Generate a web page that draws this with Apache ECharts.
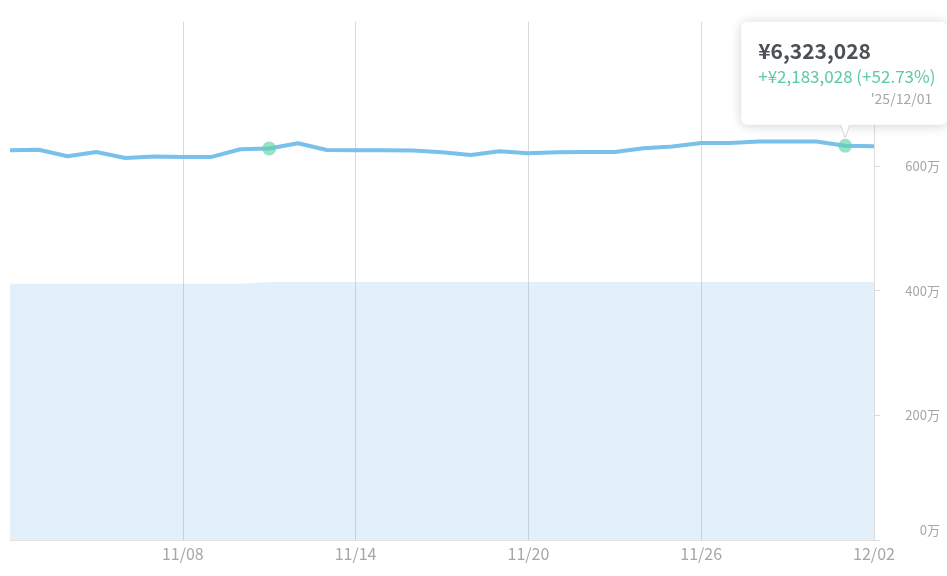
<!DOCTYPE html>
<html><head><meta charset="utf-8">
<script src="https://cdn.jsdelivr.net/npm/echarts@6/dist/echarts.min.js"></script>
<style>html,body{margin:0;padding:0;background:#fff;overflow:hidden}#c{width:947px;height:576px}</style>
</head><body><div id="c"></div>
<script>
const dates = ['11/02','11/03','11/04','11/05','11/06','11/07','11/08','11/09','11/10','11/11','11/12','11/13','11/14','11/15','11/16','11/17','11/18','11/19','11/20','11/21','11/22','11/23','11/24','11/25','11/26','11/27','11/28','11/29','11/30','12/01','12/02'];
const assetValues = [6252000,6260000,6156000,6225000,6128000,6151000,6145000,6145000,6268000,6280000,6365000,6257000,6252000,6252000,6250000,6220000,6177000,6236000,6204000,6220000,6225000,6225000,6284000,6312000,6368000,6370000,6392000,6392000,6392000,6323028,6317000];
const costValues = [4110000,4110000,4110000,4110000,4110000,4110000,4110000,4110000,4110000,4140000,4140000,4140000,4140000,4140000,4140000,4140000,4140000,4140000,4140000,4140000,4140000,4140000,4140000,4140000,4140000,4140000,4140000,4140000,4140000,4140000,4140000];
const markerDates = ['11/11','12/01'];
const tooltipDate = '12/01';
const tooltipYearLabel = "'25/12/01";

const FONT = '"Noto Sans CJK JP", "Noto Sans", sans-serif';
const chart = echarts.init(document.getElementById('c'), null, {renderer:'canvas'});
const markerData = markerDates.map(d => { const i = dates.indexOf(d); return [d, assetValues[i]]; });

chart.setOption({
  animation: false,
  backgroundColor: '#fff',
  grid: {left: 10, right: 73, top: 22, bottom: 36},
  xAxis: {
    type: 'category', data: dates, boundaryGap: false,
    axisLine: {show: true, lineStyle: {color: '#e2e2e2', width: 1}},
    axisTick: {show: false},
    axisLabel: {interval: (i) => i > 0 && i % 6 === 0, color: '#a6a6a6', fontSize: 16, fontFamily: FONT, margin: 6},
    splitLine: {show: true, interval: (i) => i > 0 && i % 6 === 0, lineStyle: {color: '#d9d9d9', width: 1}}
  },
  yAxis: {
    type: 'value', position: 'right', min: 0, max: (v) => v.max * 1.3, interval: 2000000,
    axisLine: {show: true, lineStyle: {color: '#dcdcdc', width: 1}},
    axisTick: {show: true, length: 6, lineStyle: {color: '#dcdcdc'}},
    splitLine: {show: false},
    axisLabel: {
      showMaxLabel: false, margin: 26,
      formatter: (v) => v === 0 ? '{z|0万}' : '{a|' + (v / 10000) + '万}',
      rich: {
        a: {width: 40, align: 'right', color: '#a6a6a6', fontSize: 13, fontFamily: FONT},
        z: {width: 40, align: 'right', padding: [0, 0, 20, 0], color: '#a6a6a6', fontSize: 13, fontFamily: FONT}
      }
    }
  },
  series: [
    {type: 'line', data: costValues, symbol: 'none', lineStyle: {width: 0}, areaStyle: {color: 'rgba(125,182,226,0.21)', opacity: 1}, z: 1},
    {type: 'line', data: assetValues, symbol: 'none', lineStyle: {width: 4, color: '#79c0eb'}, z: 2},
    {type: 'scatter', data: markerData, symbolSize: 14, itemStyle: {color: '#5fd3ab', opacity: 0.65}, z: 3}
  ]
});

const ti = dates.indexOf(tooltipDate);
const v = assetValues[ti], c = costValues[ti], gain = v - c;
const fmt = (n) => Math.round(n).toString().replace(/\B(?=(\d{3})+(?!\d))/g, ',');
const p = chart.convertToPixel({xAxisIndex: 0, yAxisIndex: 0}, [ti, v]);
const bx = p[0] - 104, by = p[1] - 124, bw = 206, bh = 103;
chart.setOption({
  graphic: [
    {type: 'rect', z: 100, shape: {x: bx, y: by, width: bw, height: bh, r: 6},
     style: {fill: '#fff', shadowBlur: 12, shadowColor: 'rgba(0,0,0,0.18)', shadowOffsetY: 1}},
    {type: 'polygon', z: 101, shape: {points: [[p[0]-5, by + bh - 1], [p[0]+5, by + bh - 1], [p[0], p[1] - 8]]},
     style: {fill: '#fff', stroke: '#d8d8d8', lineWidth: 1}},
    {type: 'rect', z: 102, shape: {x: p[0]-6, y: by + bh - 3, width: 12, height: 3}, style: {fill: '#fff'}},
    {type: 'text', z: 103, x: bx + 17, y: by + 29, style: {text: '¥' + fmt(v), font: 'bold 21px ' + FONT, fill: '#4b5157', verticalAlign: 'middle'}},
    {type: 'text', z: 103, x: bx + 17, y: by + 55, style: {text: '+¥' + fmt(gain) + ' (+' + (gain / c * 100).toFixed(2) + '%)', font: '17px ' + FONT, fill: '#5cc9a0', verticalAlign: 'middle'}},
    {type: 'text', z: 103, x: bx + 191, y: by + 77, style: {text: tooltipYearLabel, font: '14px ' + FONT, fill: '#a6a6a6', align: 'right', verticalAlign: 'middle'}}
  ]
});
</script>
</body></html>
